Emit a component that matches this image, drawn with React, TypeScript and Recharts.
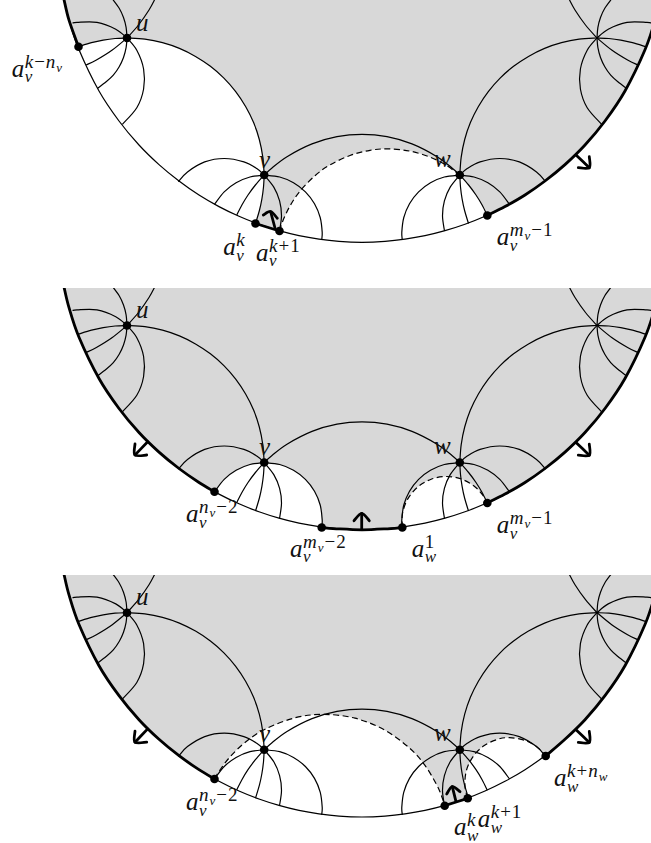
import React from "react";
import { ScatterChart, Scatter, XAxis, YAxis } from "recharts";

type Pt = number[];

// ---- disk boundary ----
const diskOutline: Pt[] = [[62,-11],[64,-0.4],[69,20.2],[79,49.8],[99,91],[119,121],[139,145],[159,164.6],[179,181],[199,195],[219,206.6],[239,216.3],[259,224.3],[279,230.7],[299,235.7],[319,239.2],[339,241.4],[362,242.3],[385,241.4],[405,239.2],[425,235.7],[445,230.7],[465,224.3],[485,216.3],[505,206.6],[525,195],[545,181],[565,164.6],[585,145],[605,121],[625,91],[645,49.8],[655,20.2],[660,-0.4],[662,-11]];

// ---- geodesics at u ----
const uFan1: Pt[] = [[72.5,23],[77,22.4],[97,22.4],[115.75,29.2],[127,38]];
const uFan2: Pt[] = [[78.5,46.7],[91.5,42.7],[103.2,40.1],[115.1,38.5],[127,38]];
const uFan3: Pt[] = [[86.2,65],[96.4,60],[112.3,50],[127,38]];
const uFan4: Pt[] = [[127,38],[126.1,47.7],[123.5,57.5],[119.2,66.75],[113.3,75.1],[106.1,81.8],[97.75,88.2]];
const uFan5: Pt[] = [[122.4,124.3],[136.8,107.75],[143.6,89],[143.6,69],[136.8,50.25],[127,38]];
const uFan6: Pt[] = [[112.5,-1],[119.2,8.25],[123.5,17.5],[126.1,27.3],[127,38]];
const uFan7: Pt[] = [[127,38],[138.5,25],[149,10],[155,-1]];
const uToV: Pt[] = [[127,38],[144.9,39.2],[162.5,42.7],[179.4,48.4],[195.5,56.4],[210.4,66.3],[223.9,78.1],[235.7,91.6],[245.6,106.5],[253.6,122.6],[259.3,139.5],[262.8,157.1],[264.2,175]];

// ---- geodesics at the unnamed right vertex ----
const rFan1: Pt[] = [[651.5,23],[647,22.4],[627,22.4],[608.25,29.2],[597,38]];
const rFan2: Pt[] = [[645.5,46.7],[632.5,42.7],[620.8,40.1],[608.9,38.5],[597,38]];
const rFan3: Pt[] = [[637.8,65],[627.6,60],[611.7,50],[597,38]];
const rFan4: Pt[] = [[597,38],[597.9,47.7],[600.5,57.5],[604.8,66.75],[610.7,75.1],[617.9,81.8],[626.25,88.2]];
const rFan5: Pt[] = [[601.6,124.3],[587.2,107.75],[580.4,89],[580.4,69],[587.2,50.25],[597,38]];
const rFan6: Pt[] = [[611.5,-1],[604.8,8.25],[600.5,17.5],[597.9,27.3],[597,38]];
const rFan7: Pt[] = [[597,38],[585.5,25],[575,10],[569,-1]];
const rToW: Pt[] = [[597,38],[579.1,39.2],[561.5,42.7],[544.6,48.4],[528.5,56.4],[513.6,66.3],[500.1,78.1],[488.3,91.6],[478.4,106.5],[470.4,122.6],[464.7,139.5],[461.2,157.1],[459.8,175]];

// ---- geodesics at v ----
const vFanA: Pt[] = [[178.3,181.7],[187.5,171.9],[204.7,161.9],[224.3,158.5],[243.9,161.9],[257.1,168.8],[264.2,175]];
const vFanB: Pt[] = [[214.5,204.3],[224.2,191.8],[236.1,182.7],[250,177],[264.2,175]];
const vFanC: Pt[] = [[236.8,215],[241.9,205],[248,195],[255.4,185],[264.2,175]];
const vFanD: Pt[] = [[264.2,175],[263.5,187],[261.9,198.8],[259.4,210.5],[255.5,223.5]];
const vFanE: Pt[] = [[264.2,175],[273.8,187.1],[279.6,200.9],[281.5,215.7],[279.5,231]];
const vFanF: Pt[] = [[264.2,175],[279.7,177],[293.5,182.7],[305.4,191.8],[314.5,203.7],[320.2,217.5],[322.2,232.4],[321.7,240]];
const vToW: Pt[] = [[264.2,175],[272,168],[287,156.7],[312,143.9],[337,136.7],[362,134.4],[387,136.7],[412,143.9],[437,156.7],[452,168],[459.8,175]];

// ---- geodesics at w ----
const wFanA: Pt[] = [[545.7,181.7],[536.5,171.9],[519.3,161.9],[499.7,158.5],[480.1,161.9],[466.9,168.8],[459.8,175]];
const wFanB: Pt[] = [[509.5,204.3],[499.8,191.8],[487.9,182.7],[474,177],[459.8,175]];
const wFanC: Pt[] = [[459.8,175],[468.6,185],[476,195],[482.1,205],[487.3,215.5]];
const wFanD: Pt[] = [[459.8,175],[460.5,187],[462.1,198.8],[464.6,210.5],[468.5,223.5]];
const wFanE: Pt[] = [[459.8,175],[450.2,187.1],[444.4,200.9],[442.5,215.7],[444.5,231]];
const wFanF: Pt[] = [[459.8,175],[444.3,177],[430.5,182.7],[418.6,191.8],[409.5,203.7],[403.8,217.5],[401.8,232.4],[402.3,240]];

const sharedArcs: Pt[][] = [uFan1,uFan2,uFan3,uFan4,uFan5,uFan6,uFan7,uToV,rFan1,rFan2,rFan3,rFan4,rFan5,rFan6,rFan7,rToW,vFanA,vFanB,vFanC,vFanD,vFanE,vFanF,vToW,wFanA,wFanB,wFanC,wFanD,wFanE,wFanF];

// ---- thick boundary pieces ----
const thickRightA: Pt[] = [[487.3,215.5],[505,206.6],[525,195],[545,181],[565,164.6],[585,145],[605,121],[625,91],[645,49.8],[655,20.2],[660,-0.4]];
const thickRightB: Pt[] = [[545.7,181.3],[565,164.6],[585,145],[605,121],[625,91],[645,49.8],[655,20.2],[660,-0.4]];
const thickLeftA: Pt[] = [[64,-0.4],[69,20.2],[78.5,46.7]];
const thickLeftB: Pt[] = [[64,-0.4],[69,20.2],[79,49.8],[99,91],[119,121],[139,145],[159,164.6],[179,181],[199,195],[214.5,204.3]];
const thickBottomOne: Pt[] = [[255.5,223.5],[279.5,231]];
const thickBottomTwo: Pt[] = [[321.7,240],[339,241.4],[362,242.3],[385,241.4],[402.3,240]];
const thickBottomThree: Pt[] = [[444.7,231],[467.7,223.6]];

// ---- dashed geodesics ----
const dashOne: Pt[] = [[279.5,231],[283,220.6],[290,205.9],[300,191.1],[315,175.7],[330,164.9],[350,155.5],[370,150.3],[388,148.9],[410,151.1],[430,157.1],[445,164.5],[459.8,175]];
const dashTwo: Pt[] = [[402.3,240],[402.5,225.9],[407.8,211.35],[417.8,199.5],[431.2,191.7],[446.5,189],[461.8,191.7],[475.2,199.5],[483.1,208.1],[487.3,215.5]];
const dashThreeA: Pt[] = [[214.5,204.3],[220,195.3],[230,182.2],[245,167.8],[265,154.5],[295,143.1],[324,139.7],[355,143.5],[385,155.5],[410,173.8],[425,190.7],[437,210.7],[442,222.6],[444.7,231]];
const dashThreeB: Pt[] = [[467.7,223.6],[465,211.7],[466.3,196.2],[472.9,182.1],[483.9,171.1],[498,164.5],[509.6,163],[524.9,165.7],[537.2,172.5],[545.7,181.3]];

// ---- white regions: closing boundary stretches ----
const edgeOneA: Pt[] = [[255.5,223.5],[239,216.3],[219,206.6],[199,195],[179,181],[159,164.6],[139,145],[119,121],[99,91],[78.5,46.7]];
const edgeOneB: Pt[] = [[487.3,215.5],[465,224.3],[445,230.7],[425,235.7],[405,239.2],[385,241.4],[362,242.3],[339,241.4],[319,239.2],[299,235.7],[279.5,231]];
const edgeTwoA: Pt[] = [[321.7,240],[299,235.7],[279,230.7],[259,224.3],[239,216.3],[214.5,204.3]];
const edgeTwoB: Pt[] = [[487.3,215.5],[465,224.3],[445,230.7],[425,235.7],[402.3,240]];
const edgeThreeA: Pt[] = [[444.7,231],[425,235.7],[405,239.2],[385,241.4],[362,242.3],[339,241.4],[319,239.2],[299,235.7],[279,230.7],[259,224.3],[239,216.3],[214.5,204.3]];
const edgeThreeB: Pt[] = [[545.7,181.3],[525,195],[505,206.6],[485,216.3],[467.7,223.6]];

// ---- arrows ----
const arrowRight: Pt[][] = [[[576,155],[589.3,167.7]],[[578.3,167.7],[589.3,167.7],[589.3,156.7]]];
const arrowLeft: Pt[][] = [[[147.7,154.2],[135,167.5]],[[135,156.5],[135,167.5],[146.7,167.5]]];
const arrowOne: Pt[][] = [[[275,228],[270.7,212]],[[263.3,215],[270.7,211.5],[277.3,218.3]]];
const arrowTwo: Pt[][] = [[[361.7,242],[361.7,225.8]],[[354,233.2],[361.7,225.8],[369.3,233.2]]];
const arrowThree: Pt[][] = [[[456,227],[452.3,212]],[[446.7,219.3],[452.3,212],[460,217]]];

// ---- vertices ----
const dotsOne: Pt[] = [[127,38],[264.2,175],[459.8,175],[78.5,46.7],[255.5,223.5],[279.5,231],[487.3,215.5]];
const dotsTwo: Pt[] = [[127,38],[264.2,175],[459.8,175],[214.5,204.3],[321.7,240],[402.3,240],[487.3,215.5]];
const dotsThree: Pt[] = [[127,38],[264.2,175],[459.8,175],[214.5,204.3],[444.7,231],[467.7,223.6],[545.7,181.3]];

// ---- labels ----
type Lab = { x: number; y: number; base: string; sub?: string; sup?: string };
const vertexLabels: Lab[] = [
  { x: 136, y: 30.5, base: "u" },
  { x: 259, y: 167.5, base: "v" },
  { x: 434, y: 166.7, base: "w" },
];
const labelsOne: Lab[] = [
  ...vertexLabels,
  { x: 11.7, y: 76.7, base: "a", sub: "v", sup: "k−n_v" },
  { x: 223.3, y: 255, base: "a", sub: "v", sup: "k" },
  { x: 256, y: 260.7, base: "a", sub: "v", sup: "k+1" },
  { x: 496.7, y: 245, base: "a", sub: "v", sup: "m_v−1" },
];
const labelsTwo: Lab[] = [
  ...vertexLabels,
  { x: 186, y: 234.8, base: "a", sub: "v", sup: "n_v−2" },
  { x: 290, y: 269.2, base: "a", sub: "v", sup: "m_v−2" },
  { x: 411.7, y: 269.2, base: "a", sub: "w", sup: "1" },
  { x: 496.7, y: 245.8, base: "a", sub: "v", sup: "m_v−1" },
];
const labelsThree: Lab[] = [
  ...vertexLabels,
  { x: 186, y: 235.3, base: "a", sub: "v", sup: "n_v−2" },
  { x: 454, y: 260.3, base: "a", sub: "w", sup: "k" },
  { x: 477.7, y: 252.6, base: "a", sub: "w", sup: "k+1" },
  { x: 554, y: 211.3, base: "a", sub: "w", sup: "k+n_w" },
];

const rows = (a: Pt[]) => a.map(([x, y]) => ({ x, y }));

const panels = [
  {
    top: 0, height: 280, start: 0,
    whites: [[...uFan2, ...uToV, ...vFanD, ...edgeOneA], [...dashOne, ...wFanC, ...edgeOneB]],
    dashed: [dashOne],
    thick: [thickLeftA, thickBottomOne, thickRightA],
    arrows: [...arrowRight, ...arrowOne],
    dots: dotsOne,
    labels: labelsOne,
  },
  {
    top: 288, height: 285, start: 0.5,
    whites: [[...vFanB, ...vFanF, ...edgeTwoA], [...dashTwo, ...edgeTwoB]],
    dashed: [dashTwo],
    thick: [thickLeftB, thickBottomTwo, thickRightA],
    arrows: [...arrowRight, ...arrowLeft, ...arrowTwo],
    dots: dotsTwo,
    labels: labelsTwo,
  },
  {
    top: 575, height: 268, start: 0.3,
    whites: [[...dashThreeA, ...edgeThreeA], [...dashThreeB, ...edgeThreeB]],
    dashed: [dashThreeA, dashThreeB],
    thick: [thickLeftB, thickBottomThree, thickRightB],
    arrows: [...arrowRight, ...arrowLeft, ...arrowThree],
    dots: dotsThree,
    labels: labelsThree,
  },
];

// Smooth curve through the points; a repeated point makes a sharp corner.
const cornerCurve = (ctx: any) => {
  let pts: number[][] = [];
  const same = (a: number[], b: number[]) => a[0] === b[0] && a[1] === b[1];
  return {
    areaStart() {},
    areaEnd() {},
    lineStart() { pts = []; },
    point(x: number, y: number) { pts.push([x, y]); },
    lineEnd() {
      if (!pts.length) return;
      ctx.moveTo(pts[0][0], pts[0][1]);
      for (let i = 0; i + 1 < pts.length; i++) {
        const p1 = pts[i], p2 = pts[i + 1];
        if (same(p1, p2)) continue;
        const p0 = i > 0 && !same(pts[i - 1], p1) ? pts[i - 1] : p1;
        const p3 = i + 2 < pts.length && !same(pts[i + 2], p2) ? pts[i + 2] : p2;
        ctx.bezierCurveTo(
          p1[0] + (p2[0] - p0[0]) / 6, p1[1] + (p2[1] - p0[1]) / 6,
          p2[0] - (p3[0] - p1[0]) / 6, p2[1] - (p3[1] - p1[1]) / 6,
          p2[0], p2[1]
        );
      }
    },
  };
};

const SERIF = "'Liberation Serif', serif";
const noMark = () => null;
const dotMark = (p: any) => <circle cx={p.cx} cy={p.cy} r={4.3} fill="#000" />;

// Flat tspans: the first one carries the start position of the superscript.
function scriptParts(text: string, startX: number, startDy: number) {
  const out: React.ReactNode[] = [];
  let shift = 0;
  let first = true;
  for (let i = 0; i < text.length; i++) {
    let ch = text[i];
    const low = ch === "_";
    if (low) ch = text[++i];
    const letter = /[a-z]/.test(ch);
    const dy = (low ? 4 : shift ? -shift : 0) + (first ? startDy : 0);
    shift = low ? 4 : 0;
    out.push(
      <tspan key={i} x={first ? startX : undefined} dx={first ? 0 : 1} dy={dy} fontStyle={letter ? "italic" : "normal"} fontSize={low ? 13 : 19}>{ch}</tspan>
    );
    first = false;
  }
  return out;
}

const labelMark = (p: any) => {
  const d: Lab = p.payload;
  const X = p.cx, Y = p.cy;
  return (
    <text x={X} y={Y} fontFamily={SERIF} fill="#111" fontSize={25}>
      <tspan fontStyle="italic">{d.base}</tspan>
      {d.sub ? <tspan x={X + 13} dy={5.5} fontSize={17} fontStyle="italic">{d.sub}</tspan> : null}
      {d.sup ? scriptParts(d.sup, X + 13, -14.5) : null}
    </text>
  );
};

const curve = (key: string, pts: Pt[], line: any) => (
  <Scatter key={key} data={rows(pts)} line={line} lineType="joint" lineJointType={cornerCurve as any} shape={noMark} isAnimationActive={false} />
);

function Panel({ cfg }: { cfg: (typeof panels)[number] }) {
  return (
    <div style={{ position: "absolute", left: 0, top: cfg.top }}>
      <ScatterChart width={651} height={cfg.height} margin={{ top: 0, right: 0, bottom: 0, left: 0 }}>
        <XAxis type="number" dataKey="x" domain={[0, 651]} allowDataOverflow hide />
        <YAxis type="number" dataKey="y" domain={[cfg.start, cfg.start + cfg.height]} allowDataOverflow reversed hide />
        {curve("disk", diskOutline, { fill: "#d8d8d8", stroke: "none" })}
        {cfg.whites.map((w, i) => curve("white" + i, w, { fill: "#ffffff", stroke: "none" }))}
        {curve("rim", diskOutline, { fill: "none", stroke: "#000", strokeWidth: 1.2 })}
        {sharedArcs.map((a, i) => curve("arc" + i, a, { fill: "none", stroke: "#000", strokeWidth: 1.2 }))}
        {cfg.dashed.map((a, i) => curve("dash" + i, a, { fill: "none", stroke: "#000", strokeWidth: 1.2, strokeDasharray: "6 3.5" }))}
        {cfg.thick.map((a, i) => curve("thick" + i, a, { fill: "none", stroke: "#000", strokeWidth: 2.8 }))}
        {cfg.arrows.map((a, i) => curve("arrow" + i, a, { fill: "none", stroke: "#000", strokeWidth: 2.8, strokeLinecap: "round", strokeLinejoin: "miter" }))}
        <Scatter data={rows(cfg.dots)} shape={dotMark} isAnimationActive={false} />
        <Scatter data={cfg.labels} shape={labelMark} isAnimationActive={false} />
      </ScatterChart>
    </div>
  );
}

export default function App() {
  return (
    <div style={{ position: "absolute", left: 0, top: 0, width: 651, height: 843, background: "#fff", overflow: "hidden" }}>
      {panels.map((cfg) => (
        <Panel key={cfg.top} cfg={cfg} />
      ))}
    </div>
  );
}
